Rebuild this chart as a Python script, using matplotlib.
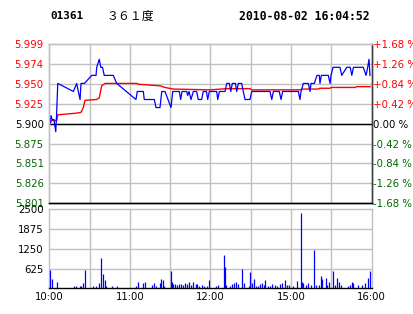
import numpy as np
import matplotlib
matplotlib.use("Agg")
from matplotlib import pyplot as plt

# header
CODE = "01361"
NAME = "３６１度"
STAMP = "2010-08-02 16:04:52"
PREV_CLOSE = 5.900

# minutes since 10:00 (lunch break removed: 10:00-12:30, 14:30-16:00)
price_t = [0, 0.7, 1.3, 2.2, 3.5, 4.8, 5.4, 6.3, 17.9, 20.4, 21.6, 22.9, 23.6, 26.1,
           31.6, 34.8, 35.3, 37.2, 38.3, 39.6, 40.9, 47.6, 50.2, 64.5, 65.5, 70.0,
           70.7, 78.2, 79.4, 82.4, 83.7, 86.1, 90.6, 91.9, 96.8, 97.8, 98.8, 102.3,
           103.0, 104.0, 105.5, 107.2, 109.7, 110.9, 113.4, 114.6, 117.0, 117.9, 119.1,
           124.6, 125.4, 126.6, 130.8, 132.1, 134.0, 135.1, 136.2, 138.6, 139.5, 140.7,
           143.2, 144.4, 145.7, 149.4, 150.7, 164.3, 165.6, 166.8, 171.2, 172.5, 173.7,
           185.4, 186.6, 187.4, 189.1, 192.8, 194.1, 194.8, 197.3, 199.3, 201.0, 201.5,
           202.5, 207.7, 209.0, 209.7, 211.2, 216.4, 217.7, 221.4, 224.0, 225.2, 226.4,
           233.7, 235.8, 237.0, 238.0, 238.7]
price = [5.900, 5.902, 5.910, 5.905, 5.905, 5.890, 5.910, 5.950, 5.940, 5.950, 5.940, 5.930,
         5.950, 5.950, 5.960, 5.960, 5.970, 5.980, 5.970, 5.970, 5.960, 5.960, 5.950,
         5.930, 5.940, 5.940, 5.930, 5.930, 5.920, 5.920, 5.940, 5.940, 5.920, 5.940,
         5.940, 5.930, 5.940, 5.940, 5.935, 5.940, 5.930, 5.940, 5.940, 5.930, 5.930,
         5.940, 5.940, 5.930, 5.940, 5.940, 5.930, 5.940, 5.940, 5.950, 5.950, 5.940,
         5.950, 5.950, 5.940, 5.950, 5.950, 5.940, 5.930, 5.930, 5.940, 5.940, 5.930,
         5.940, 5.940, 5.930, 5.940, 5.940, 5.930, 5.940, 5.950, 5.950, 5.940, 5.950,
         5.950, 5.960, 5.960, 5.950, 5.960, 5.960, 5.950, 5.960, 5.970, 5.970, 5.960,
         5.970, 5.970, 5.960, 5.970, 5.970, 5.960, 5.970, 5.980, 5.960]

avg_t = [0, 0.5, 1.8, 5.5, 6.3, 19.9, 23.6, 25.3, 26.6, 35.3, 37.2, 39.0, 41.5, 65.0,
         66.3, 82.4, 86.1, 92.3, 119.6, 132.0, 149.4, 150.7, 186.6, 188.9, 200.2,
         201.5, 208.9, 210.2, 227.6, 228.9, 238.8]
avg = [5.900, 5.900, 5.904, 5.904, 5.911, 5.913, 5.914, 5.920, 5.929, 5.930, 5.932,
       5.947, 5.950, 5.950, 5.949, 5.947, 5.945, 5.943, 5.942, 5.9435, 5.9435, 5.942,
       5.942, 5.943, 5.943, 5.944, 5.944, 5.945, 5.945, 5.946, 5.946]

vol_t = [0.5, 1.8, 5.7, 18.2, 20.1, 22.6, 23.4, 25.3, 26.4, 32.3, 34.5, 37.0, 38.5, 40.2,
         41.2, 42.2, 46.7, 50.2, 64.5, 65.8, 70.0, 71.2, 76.7, 77.9, 79.4, 82.4, 83.2,
         84.4, 85.4, 90.6, 91.3, 92.3, 93.5, 95.0, 96.5, 98.0, 99.5, 100.9, 102.5, 104.0,
         105.5, 106.9, 109.0, 110.0, 111.5, 113.7, 115.5, 117.4, 118.7, 124.1, 125.6,
         130.3, 131.0, 131.8, 134.5, 136.0, 137.5, 138.8, 140.2, 143.4, 144.9, 148.9,
         149.6, 150.9, 152.2, 153.9, 155.4, 156.8, 158.1, 159.8, 160.6, 162.8, 164.3,
         165.8, 167.8, 169.5, 171.8, 173.0, 175.5, 177.0, 178.5, 181.2, 184.4, 187.4,
         188.1, 188.9, 191.1, 192.6, 194.8, 197.1, 198.5, 200.8, 202.0, 202.8, 205.8,
         206.7, 208.4, 211.0, 212.7, 214.4, 215.7, 217.2, 222.4, 223.9, 225.4, 226.2,
         229.9, 232.9, 235.2, 237.2, 238.5]
vol = [578, 290, 190, 70, 70, 70, 70, 158, 578, 70, 70, 167, 958, 462,
       262, 70, 70, 70, 70, 190, 167, 190, 104, 158, 70, 167, 294,
       262, 70, 556, 190, 150, 130, 100, 130, 130, 100, 160, 130, 190,
       100, 190, 130, 130, 70, 100, 70, 70, 262, 70, 100,
       1052, 664, 100, 70, 130, 177, 200, 130, 610, 177, 70,
       515, 177, 294, 70, 70, 130, 177, 100, 262, 70, 70,
       130, 100, 70, 130, 160, 262, 100, 100, 70, 240, 2380,
       209, 177, 100, 160, 100, 1210, 100, 100, 398, 284, 316,
       100, 190, 556, 100, 335, 209, 100, 70, 100, 190, 160,
       100, 100, 160, 316, 556]

price_labels = ["5.801", "5.826", "5.851", "5.875", "5.900", "5.925", "5.950", "5.974", "5.999"]
pct_labels = ["-1.68 %", "-1.26 %", "-0.84 %", "-0.42 %", "0.00 %",
              "+0.42 %", "+0.84 %", "+1.26 %", "+1.68 %"]
vol_ticks = [625, 1250, 1875, 2500]
time_ticks = [0, 60, 120, 180, 240]
time_labels = ["10:00", "11:00", "12:00", "15:00", "16:00"]

GRID = "#c0c0c0"
RED = "#ff0000"
GREEN = "#006600"
FS = 7.3

plt.rcParams["font.family"] = ["DejaVu Sans"]

fig = plt.figure(figsize=(4.14, 3.14), dpi=100)
ax = fig.add_axes([49.3 / 414, 1 - 203.3 / 314, 322.4 / 414, 159.3 / 314])
axv = fig.add_axes([49.3 / 414, 1 - 288.3 / 314, 322.4 / 414, 79.0 / 314])

price_pos = np.linspace(5.801, 5.999, 9)
label_colors = [GREEN] * 4 + ["black"] + [RED] * 4

# price panel
ax.set_xlim(0, 240)
ax.set_ylim(5.801, 5.999)
for t in range(30, 240, 30):
    ax.axvline(t, color=GRID, lw=1.0, zorder=1)
for p in price_pos[1:-1]:
    ax.axhline(p, color=GRID, lw=1.0, zorder=1)
ax.axhline(PREV_CLOSE, color="black", lw=1.0, zorder=2)
ax.plot(avg_t, avg, color=RED, lw=1.0, zorder=3)
ax.plot(price_t, price, color="#0000ff", lw=0.9, zorder=4)

ax.set_xticks([])
ax.set_yticks(price_pos)
ax.set_yticklabels(price_labels)
ax.tick_params(axis="y", length=0, pad=4, labelsize=FS)
for lab, c in zip(ax.get_yticklabels(), label_colors):
    lab.set_color(c)

ax2 = ax.twinx()
ax2.set_ylim(5.801, 5.999)
ax2.set_yticks(price_pos)
ax2.set_yticklabels(pct_labels)
ax2.tick_params(axis="y", length=0, pad=1, labelsize=FS)
for lab, c in zip(ax2.get_yticklabels(), label_colors):
    lab.set_color(c)

for a in (ax, ax2):
    a.spines["top"].set_color(GRID)
    a.spines["left"].set_color(GRID)
    a.spines["right"].set_color("#404040")
    a.spines["bottom"].set_color("black")
    for s in a.spines.values():
        s.set_linewidth(1.0)

# volume panel
axv.set_xlim(0, 240)
axv.set_ylim(0, 2500)
for t in range(30, 240, 30):
    axv.axvline(t, color=GRID, lw=1.0, zorder=1)
for v in vol_ticks[:-1]:
    axv.axhline(v, color=GRID, lw=1.0, zorder=1)
axv.vlines(vol_t, 0, vol, color="#0000ff", lw=0.9, zorder=3)
axv.set_yticks(vol_ticks)
axv.set_yticklabels([str(v) for v in vol_ticks])
axv.set_xticks(time_ticks)
axv.set_xticklabels(time_labels)
axv.tick_params(length=0, labelsize=FS)
axv.tick_params(axis="y", pad=4)
axv.tick_params(axis="x", pad=3)
for name, s in axv.spines.items():
    s.set_color("black" if name == "bottom" else GRID)
    s.set_linewidth(1.0)

# header
fig.text(50 / 414, 1 - 16 / 314, CODE, family="DejaVu Sans Mono", weight="bold",
         fontsize=7.9, va="center", ha="left")
fig.text(106 / 414, 1 - 16 / 314, NAME, family=["Noto Sans CJK SC", "DejaVu Sans"],
         fontsize=8.6, va="center", ha="left")
fig.text(370 / 414, 1 - 16 / 314, STAMP, family="DejaVu Sans Mono", weight="bold",
         fontsize=8.3, va="center", ha="right")

fig.savefig("out.png", dpi=100)
